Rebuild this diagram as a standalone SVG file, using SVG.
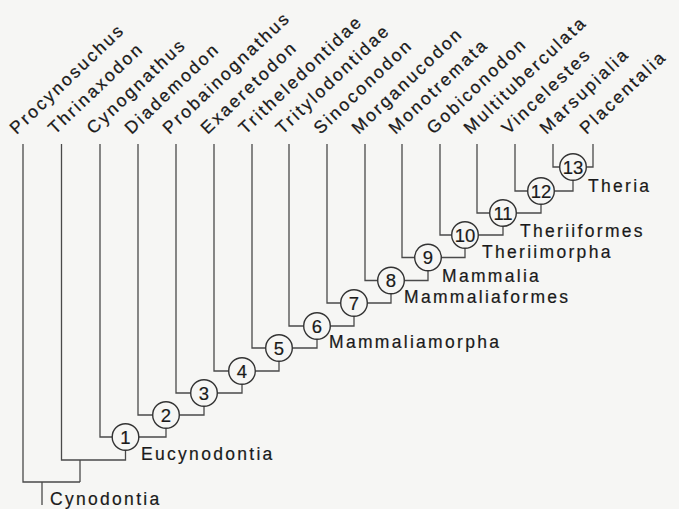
<svg xmlns="http://www.w3.org/2000/svg" width="679" height="509" viewBox="0 0 679 509">
<style>
.bg{fill:#f6f6f4}
.ln{fill:none;stroke:#4a4a4a;stroke-width:1.3}
.nd circle{fill:#f6f6f4;stroke:#333;stroke-width:1.4}
.nd text{font-family:"Liberation Sans",Arial,sans-serif;font-size:18.5px;fill:#1a1a1a;text-anchor:middle;stroke:#1a1a1a;stroke-width:0.2}
.tip{font-family:"Liberation Sans",Arial,sans-serif;font-size:17.5px;letter-spacing:2.4px;fill:#1a1a1a;stroke:#1a1a1a;stroke-width:0.25}
.cl{font-family:"Liberation Sans",Arial,sans-serif;font-size:17.5px;letter-spacing:2.3px;fill:#1a1a1a;stroke:#1a1a1a;stroke-width:0.2}
</style>
<rect class="bg" x="0" y="0" width="679" height="509"/>
<g id="tips">
<text class="tip" transform="translate(16.5,135) rotate(-43.5)">Procynosuchus</text>
<text class="tip" transform="translate(55,135) rotate(-43.5)">Thrinaxodon</text>
<text class="tip" transform="translate(93.5,135) rotate(-43.5)">Cynognathus</text>
<text class="tip" transform="translate(131.5,135) rotate(-43.5)">Diademodon</text>
<text class="tip" transform="translate(169.5,135) rotate(-43.5)">Probainognathus</text>
<text class="tip" transform="translate(207.5,135) rotate(-43.5)">Exaeretodon</text>
<text class="tip" transform="translate(245.5,135) rotate(-43.5)">Tritheledontidae</text>
<text class="tip" transform="translate(282.5,135) rotate(-43.5)">Tritylodontidae</text>
<text class="tip" transform="translate(320.5,135) rotate(-43.5)">Sinoconodon</text>
<text class="tip" transform="translate(358.5,135) rotate(-43.5)">Morganucodon</text>
<text class="tip" transform="translate(395.5,135) rotate(-43.5)">Monotremata</text>
<text class="tip" transform="translate(433.5,135) rotate(-43.5)">Gobiconodon</text>
<text class="tip" transform="translate(470.5,135) rotate(-43.5)">Multituberculata</text>
<text class="tip" transform="translate(508.5,135) rotate(-43.5)">Vincelestes</text>
<text class="tip" transform="translate(546.5,135) rotate(-43.5)">Marsupialia</text>
<text class="tip" transform="translate(586.5,135) rotate(-43.5)">Placentalia</text>
</g>
<g id="connectors" class="ln">
<path d="M42,482V505"/>
<path d="M23,144V482H80"/>
<path d="M61.5,144V460H125.5V450.3"/>
<path d="M80,460V482"/>
<path d="M100,144V437H112.2M138.8,437H166V428.3"/>
<path d="M138,144V415H152.7M179.3,415H204V406.3"/>
<path d="M176,144V393H190.7M217.3,393H242V384.3"/>
<path d="M214,144V371H228.7M255.3,371H279V361.3"/>
<path d="M252,144V348H265.7M292.3,348H317V339.3"/>
<path d="M289,144V326H303.7M330.3,326H354V316.3"/>
<path d="M327,144V303H340.7M367.3,303H391V293.8"/>
<path d="M365,144V280.5H377.7M404.3,280.5H428V270.8"/>
<path d="M402,144V257.5H414.7M441.3,257.5H465V248.3"/>
<path d="M440,144V235H451.7M478.3,235H503V226.3"/>
<path d="M477,144V213H489.7M516.3,213H541V204.3"/>
<path d="M515,144V191H527.7M554.3,191H573V180.3"/>
<path d="M553,144V167H559.7"/>
<path d="M593,144V167H586.3"/>
</g>
<g id="n1" class="nd"><circle cx="125.5" cy="437" r="13.3"/><text x="125.5" y="443.5">1</text></g>
<g id="n2" class="nd"><circle cx="166" cy="415" r="13.3"/><text x="166" y="421.5">2</text></g>
<g id="n3" class="nd"><circle cx="204" cy="393" r="13.3"/><text x="204" y="399.5">3</text></g>
<g id="n4" class="nd"><circle cx="242" cy="371" r="13.3"/><text x="242" y="377.5">4</text></g>
<g id="n5" class="nd"><circle cx="279" cy="348" r="13.3"/><text x="279" y="354.5">5</text></g>
<g id="n6" class="nd"><circle cx="317" cy="326" r="13.3"/><text x="317" y="332.5">6</text></g>
<g id="n7" class="nd"><circle cx="354" cy="303" r="13.3"/><text x="354" y="309.5">7</text></g>
<g id="n8" class="nd"><circle cx="391" cy="280.5" r="13.3"/><text x="391" y="287">8</text></g>
<g id="n9" class="nd"><circle cx="428" cy="257.5" r="13.3"/><text x="428" y="264">9</text></g>
<g id="n10" class="nd"><circle cx="465" cy="235" r="13.3"/><text x="465" y="241.5">10</text></g>
<g id="n11" class="nd"><circle cx="503" cy="213" r="13.3"/><text x="503" y="219.5">11</text></g>
<g id="n12" class="nd"><circle cx="541" cy="191" r="13.3"/><text x="541" y="197.5">12</text></g>
<g id="n13" class="nd"><circle cx="573" cy="167" r="13.3"/><text x="573" y="173.5">13</text></g>
<g id="clades">
<text class="cl" x="50" y="505">Cynodontia</text>
<text class="cl" x="141" y="460">Eucynodontia</text>
<text class="cl" x="329" y="348">Mammaliamorpha</text>
<text class="cl" x="404" y="303">Mammaliaformes</text>
<text class="cl" x="442" y="282">Mammalia</text>
<text class="cl" x="482" y="258">Theriimorpha</text>
<text class="cl" x="520" y="237">Theriiformes</text>
<text class="cl" x="588" y="192">Theria</text>
</g>
</svg>
